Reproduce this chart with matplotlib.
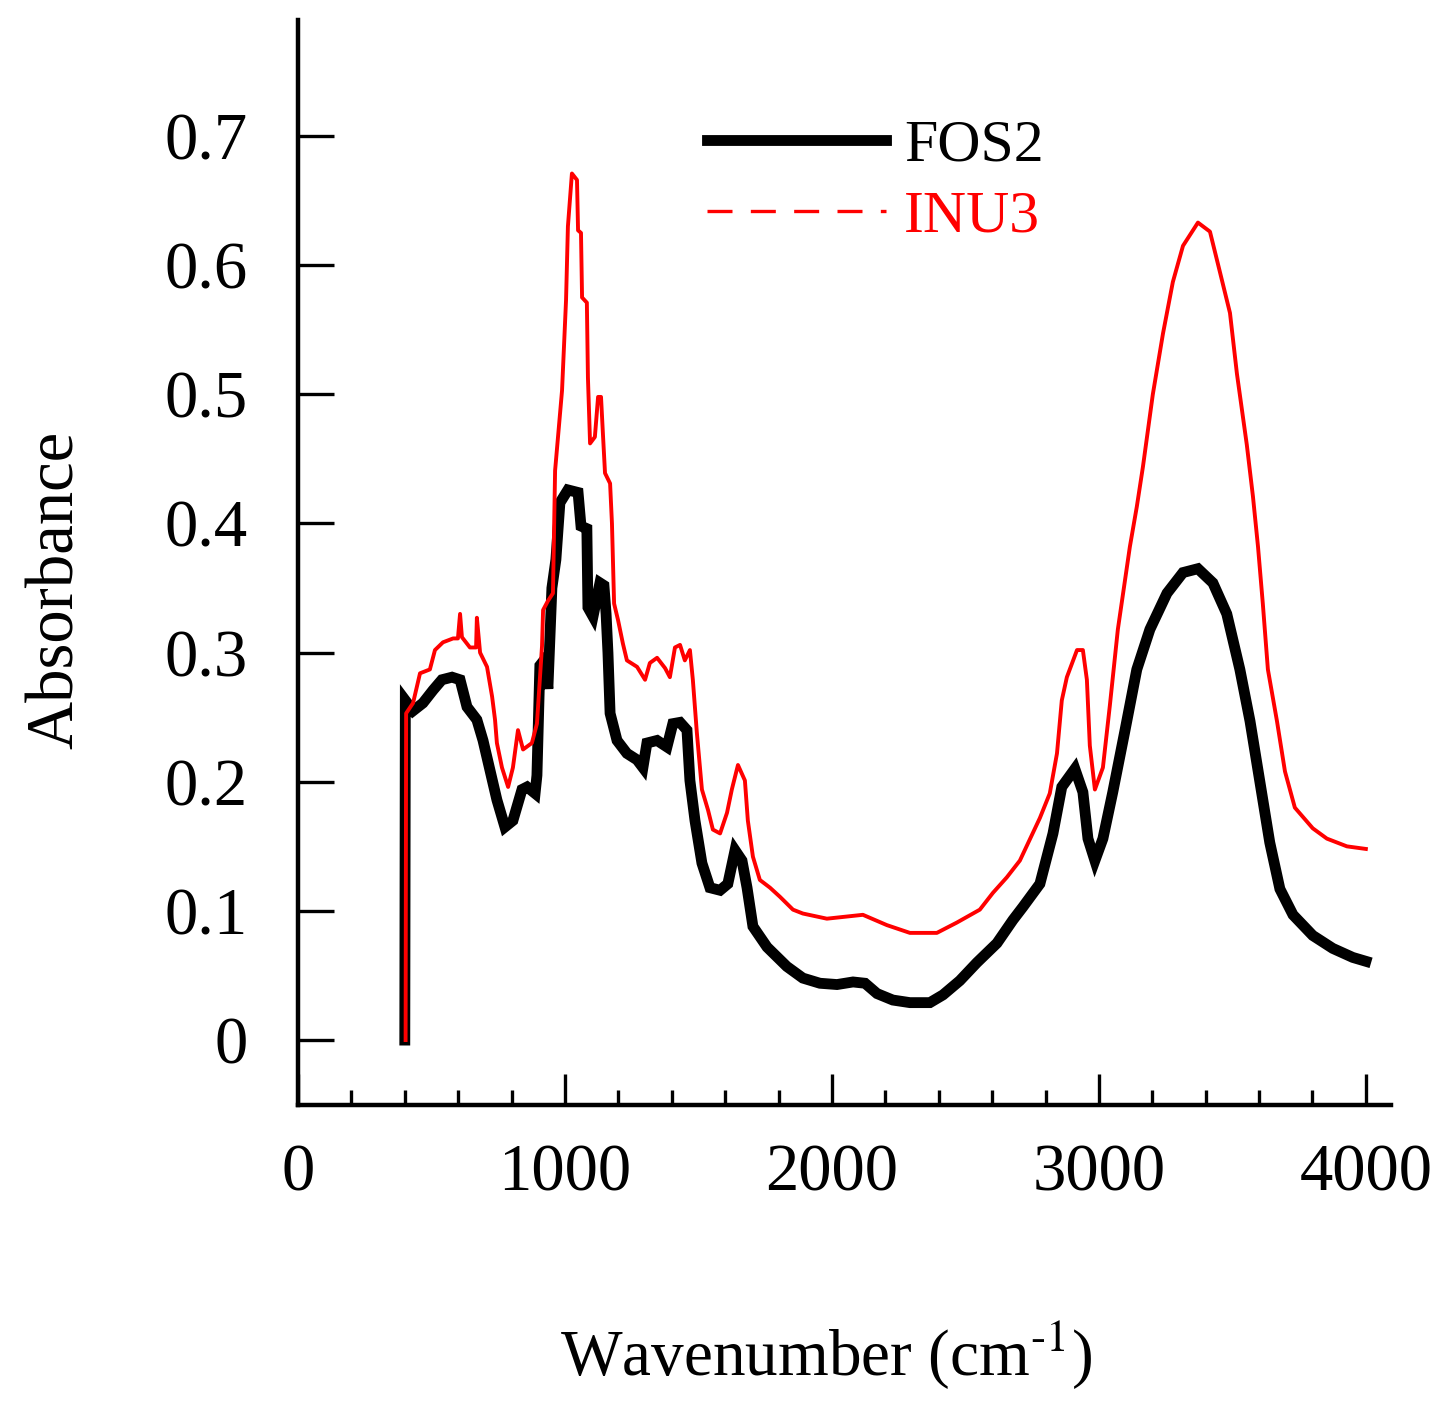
import matplotlib
matplotlib.use('Agg')
import matplotlib.pyplot as plt
from matplotlib.lines import Line2D
from matplotlib.ticker import MultipleLocator

plt.rcParams['font.family'] = ['Liberation Serif', 'DejaVu Serif']
plt.rcParams['mathtext.fontset'] = 'stix'

# FTIR spectra
fos2_x = [400, 402, 431, 468, 506, 539, 577, 607, 633, 670, 693, 719, 745, 775,
          805, 839, 858, 888, 895, 906, 925, 936, 951, 966, 981, 1011, 1049,
          1060, 1082, 1086, 1105, 1131, 1146, 1154, 1161, 1169, 1195, 1232,
          1270, 1292, 1307, 1345, 1382, 1404, 1431, 1457, 1468, 1487, 1513,
          1543, 1581, 1610, 1637, 1663, 1682, 1704, 1757, 1831, 1891, 1955,
          2019, 2079, 2124, 2169, 2228, 2292, 2367, 2416, 2479, 2543, 2618,
          2678, 2715, 2779, 2828, 2861, 2910, 2940, 2959, 2985, 3015, 3052,
          3097, 3142, 3191, 3255, 3315, 3371, 3427, 3479, 3528, 3566, 3603,
          3640, 3678, 3727, 3801, 3876, 3951, 4000]
fos2_y = [0.0, 0.263, 0.255, 0.261, 0.271, 0.279, 0.281, 0.279, 0.258, 0.248,
          0.232, 0.209, 0.186, 0.165, 0.170, 0.194, 0.196, 0.191, 0.205, 0.290,
          0.295, 0.272, 0.350, 0.372, 0.416, 0.426, 0.424, 0.398, 0.396, 0.335,
          0.328, 0.354, 0.352, 0.330, 0.300, 0.253, 0.232, 0.222, 0.217, 0.211,
          0.230, 0.232, 0.227, 0.245, 0.246, 0.240, 0.201, 0.170, 0.137, 0.118,
          0.116, 0.121, 0.147, 0.139, 0.118, 0.088, 0.072, 0.057, 0.048, 0.044,
          0.043, 0.045, 0.044, 0.036, 0.031, 0.029, 0.029, 0.035, 0.046, 0.060,
          0.075, 0.093, 0.103, 0.121, 0.160, 0.196, 0.210, 0.192, 0.156, 0.139,
          0.156, 0.192, 0.239, 0.287, 0.318, 0.346, 0.362, 0.365, 0.354, 0.330,
          0.287, 0.247, 0.200, 0.153, 0.117, 0.097, 0.081, 0.071, 0.064, 0.061]

inu3_x = [403, 405, 431, 457, 494, 513, 543, 581, 599, 607, 614, 644, 667, 670,
          682, 708, 727, 738, 745, 764, 787, 805, 824, 843, 876, 895, 914, 918,
          936, 955, 963, 989, 1004, 1011, 1026, 1045, 1049, 1060, 1064, 1082,
          1086, 1094, 1112, 1124, 1135, 1142, 1150, 1169, 1176, 1184, 1199,
          1217, 1232, 1270, 1300, 1318, 1345, 1375, 1393, 1412, 1431, 1449,
          1468, 1479, 1494, 1513, 1536, 1554, 1581, 1607, 1625, 1648, 1674,
          1685, 1704, 1730, 1768, 1805, 1854, 1891, 1981, 2116, 2206, 2292,
          2393, 2468, 2554, 2603, 2655, 2704, 2779, 2816, 2843, 2861, 2880,
          2918, 2940, 2955, 2966, 2985, 3015, 3041, 3071, 3116, 3142, 3165,
          3202, 3240, 3277, 3315, 3371, 3416, 3453, 3491, 3517, 3554, 3577,
          3596, 3614, 3633, 3667, 3697, 3734, 3801, 3854, 3929, 4000]
inu3_y = [0.0, 0.253, 0.261, 0.284, 0.287, 0.302, 0.308, 0.311, 0.311, 0.330,
          0.312, 0.304, 0.304, 0.327, 0.300, 0.289, 0.266, 0.248, 0.230, 0.211,
          0.196, 0.211, 0.240, 0.225, 0.230, 0.245, 0.305, 0.333, 0.340, 0.346,
          0.441, 0.503, 0.573, 0.630, 0.671, 0.666, 0.627, 0.625, 0.575, 0.571,
          0.513, 0.462, 0.467, 0.498, 0.498, 0.470, 0.439, 0.431, 0.400, 0.338,
          0.325, 0.307, 0.294, 0.289, 0.279, 0.292, 0.296, 0.288, 0.281, 0.304,
          0.306, 0.294, 0.302, 0.279, 0.238, 0.194, 0.178, 0.163, 0.160, 0.176,
          0.194, 0.213, 0.201, 0.170, 0.142, 0.124, 0.118, 0.111, 0.101, 0.098,
          0.094, 0.097, 0.089, 0.083, 0.083, 0.091, 0.101, 0.114, 0.126, 0.139,
          0.172, 0.191, 0.222, 0.263, 0.281, 0.302, 0.302, 0.279, 0.228, 0.194,
          0.211, 0.259, 0.318, 0.382, 0.413, 0.444, 0.500, 0.547, 0.587, 0.615,
          0.633, 0.626, 0.595, 0.563, 0.516, 0.461, 0.421, 0.382, 0.338, 0.287,
          0.247, 0.208, 0.180, 0.164, 0.156, 0.150, 0.148]

xticks = [0, 1000, 2000, 3000, 4000]
yticks = [0, 0.1, 0.2, 0.3, 0.4, 0.5, 0.6, 0.7]
ytick_labels = ['0', '0.1', '0.2', '0.3', '0.4', '0.5', '0.6', '0.7']

fig = plt.figure(figsize=(14.53, 14.14), dpi=100)
ax = fig.add_axes([0.2051, 0.2185, 0.7522, 0.7673])

ax.plot(fos2_x, fos2_y, color='black', lw=7.8, solid_joinstyle='miter')
ax.plot(inu3_x, inu3_y, color='red', lw=2.8)

ax.set_xlim(0, 4094)
ax.set_ylim(-0.0503, 0.7898)

ax.spines['top'].set_visible(False)
ax.spines['right'].set_visible(False)
ax.spines['left'].set_linewidth(3.2)
ax.spines['bottom'].set_linewidth(3.2)

ax.set_xticks(xticks)
ax.xaxis.set_minor_locator(MultipleLocator(200))
ax.set_yticks(yticks)
ax.set_yticklabels(ytick_labels)
ax.tick_params(axis='x', which='major', direction='in', length=22, width=2.4,
               pad=28, labelsize=48)
ax.tick_params(axis='x', which='minor', direction='in', length=11, width=2.4)
ax.tick_params(axis='y', which='major', direction='in', length=26, width=2.4,
               pad=36, labelsize=48)

ax.set_xlabel(r'Wavenumber (cm$^{\text{-}1}$)', fontsize=47)
ax.xaxis.label.set_va('baseline')
ax.xaxis.set_label_coords(0.483, -0.249)
ax.set_ylabel('Absorbance', fontsize=48)
ax.yaxis.set_label_coords(-0.193, 0.475)

handles = [Line2D([], [], color='black', lw=7.8),
           Line2D([], [], color='red', lw=2.4, linestyle=(0, (7.5, 5.5)))]
leg = ax.legend(handles, ['FOS2', 'INU3'], loc='upper left',
                bbox_to_anchor=(0.374, 0.909), frameon=False, fontsize=43,
                handlelength=3.0, handletextpad=0.3, labelspacing=0.27,
                borderpad=0, borderaxespad=0)
leg.get_texts()[1].set_color('red')

fig.savefig('out.png', dpi=100)
